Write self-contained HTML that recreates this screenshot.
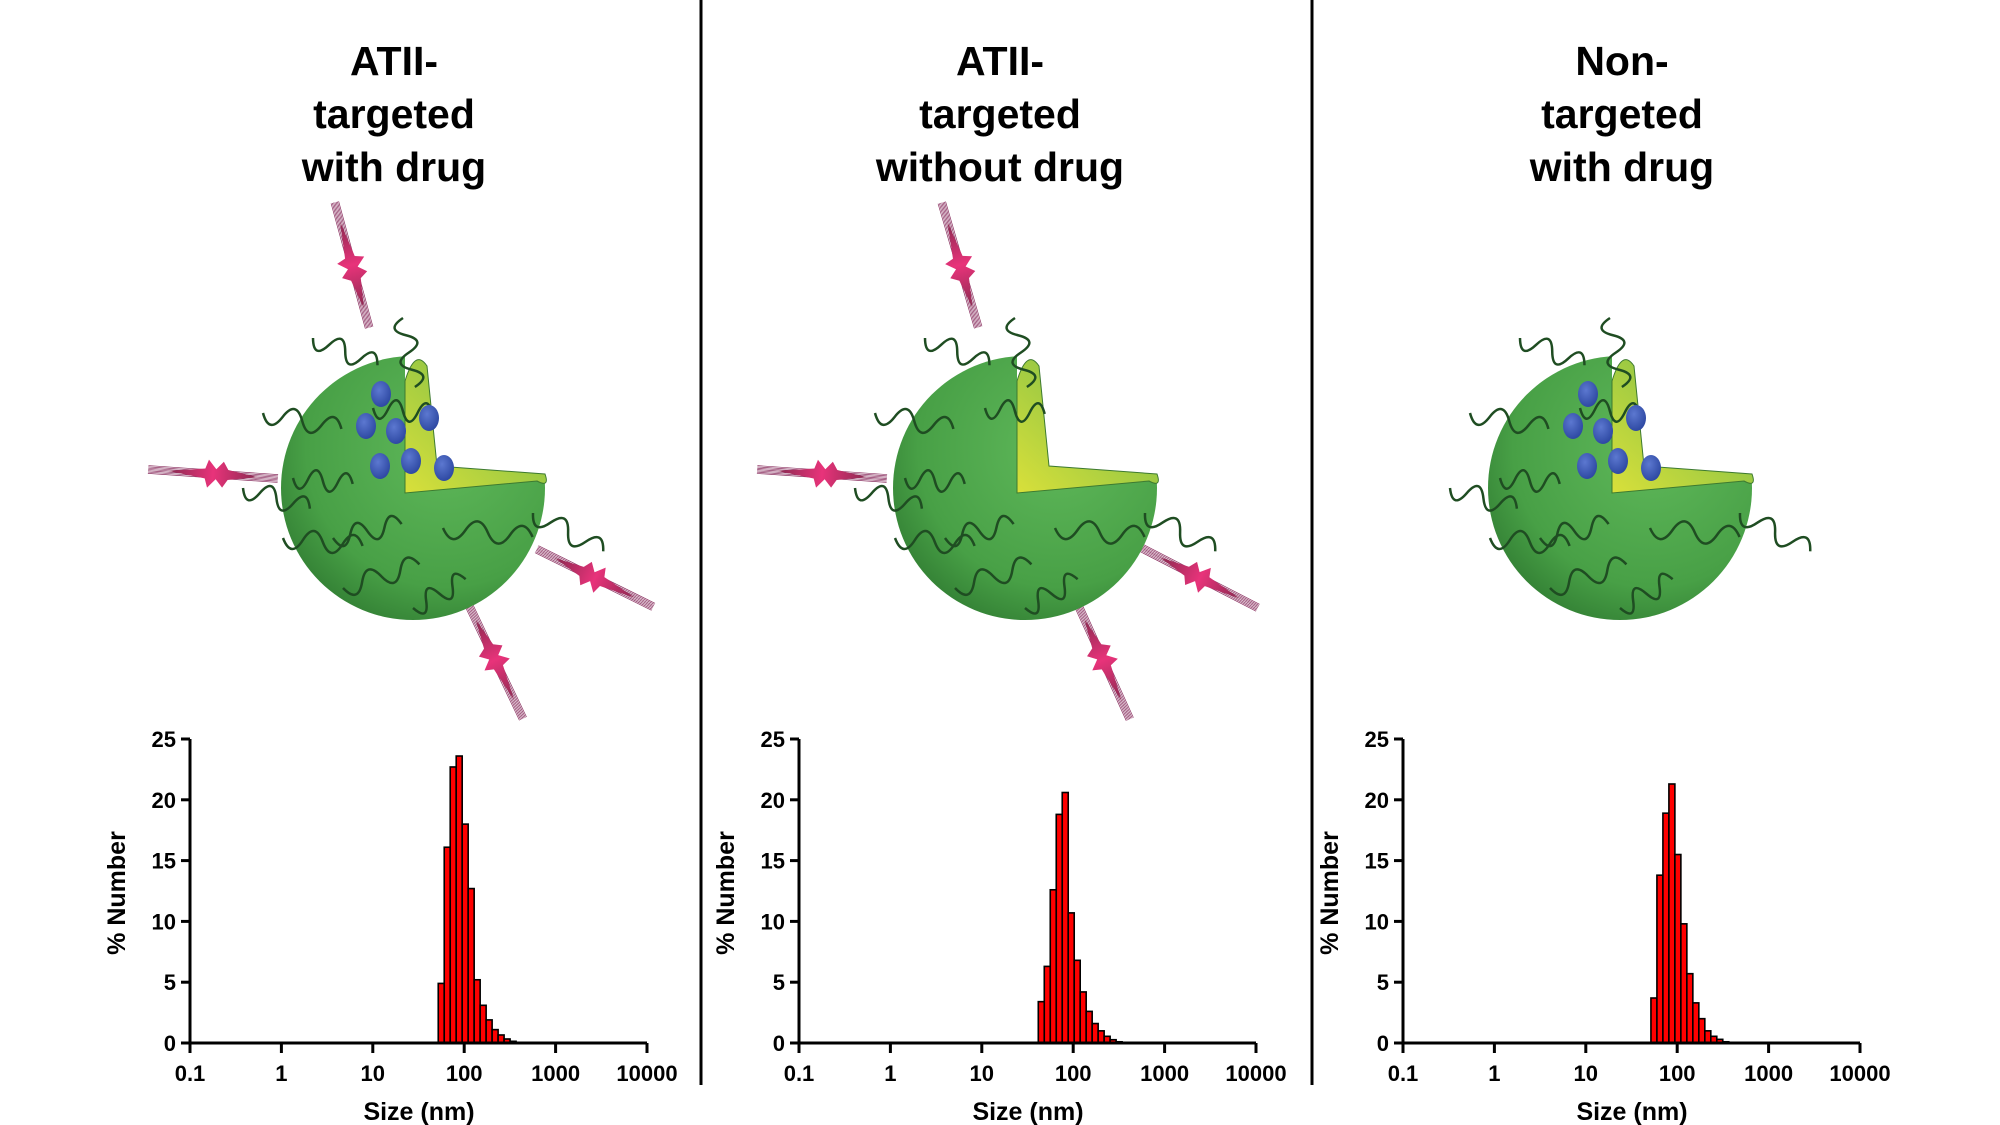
<!DOCTYPE html>
<html><head><meta charset="utf-8"><style>
body{margin:0;background:#fff;width:2000px;height:1125px;overflow:hidden;font-family:"Liberation Sans",sans-serif}
svg{position:absolute;left:0;top:0}
</style></head><body>
<svg id="s" width="2000" height="1125" viewBox="0 0 2000 1125">
<defs>
<radialGradient id="gs" cx="0.62" cy="0.35" r="0.75"><stop offset="0" stop-color="#5fb85a"/><stop offset="0.7" stop-color="#48a046"/><stop offset="1" stop-color="#2f7a31"/></radialGradient>
<linearGradient id="gw" x1="0" y1="1" x2="1" y2="0"><stop offset="0" stop-color="#d9e03a"/><stop offset="1" stop-color="#6cb84a"/></linearGradient>
<linearGradient id="gp" x1="0" y1="0" x2="1" y2="0"><stop offset="0" stop-color="#8a2a50"/><stop offset="0.5" stop-color="#e8337a"/><stop offset="1" stop-color="#8a2a50"/></linearGradient>
<radialGradient id="gb" cx="0.4" cy="0.35" r="0.7"><stop offset="0" stop-color="#5c78d0"/><stop offset="1" stop-color="#2b46a0"/></radialGradient>
</defs>
<line x1="701" y1="0" x2="701" y2="1085" stroke="#000" stroke-width="3"/>
<line x1="1312" y1="0" x2="1312" y2="1085" stroke="#000" stroke-width="3"/>
<g font-weight="bold" font-size="41" text-anchor="middle" fill="#000">
<text x="394" y="75"><tspan x="394">ATII-</tspan><tspan x="394" dy="53">targeted</tspan><tspan x="394" dy="53">with drug</tspan></text>
<text x="1000" y="75"><tspan x="1000">ATII-</tspan><tspan x="1000" dy="53">targeted</tspan><tspan x="1000" dy="53">without drug</tspan></text>
<text x="1622" y="75"><tspan x="1622">Non-</tspan><tspan x="1622" dy="53">targeted</tspan><tspan x="1622" dy="53">with drug</tspan></text>
</g>
<g id="art"></g>
<g id="charts"></g>
</svg>
<script>
const tickLabels=["0.1","1","10","100","1000","10000"];
const yTicks=[0,5,10,15,20,25];
const startSizes=[52,41.5,51.6];
const binRatioLog=0.0655;
const series1=[4.9,16.1,22.7,23.6,18.0,12.7,5.2,3.1,1.9,1.1,0.66,0.33,0.14];
const series2=[3.4,6.3,12.6,18.8,20.6,10.7,6.8,4.2,2.6,1.6,1.0,0.55,0.27,0.1];
const series3=[3.7,13.8,18.9,21.3,15.5,9.8,5.7,3.3,2.0,1.0,0.55,0.3,0.1];
const allSeries=[series1,series2,series3];
const NS="http://www.w3.org/2000/svg";
function mk(tag,at,parent){const e=document.createElementNS(NS,tag);for(const k in at)e.setAttribute(k,at[k]);parent.appendChild(e);return e;}
const panelX0=[190,799,1403];
const decW=91.4,yBase=1043,yTop=739;
const charts=document.getElementById('charts');
allSeries.forEach((vals,p)=>{
  const x0=panelX0[p];
  const g=mk('g',{},charts);
  
  
  const xs=v=>x0+(Math.log10(v)+1)*decW;
  const xl=l=>x0+(l+1)*decW;
  const ys=v=>yBase-(v/25)*(yBase-yTop);
  const l0=Math.log10(startSizes[p]);
  vals.forEach((v,i)=>{
    const a=xl(l0+i*binRatioLog),b=xl(l0+(i+1)*binRatioLog);
    const r=mk('rect',{x:a,y:ys(v),width:b-a,height:yBase-ys(v),fill:'#ff0000',stroke:'#000','stroke-width':1.6},g);
    
    
  });
  const ax=mk('path',{d:`M${x0} ${yTop} V${yBase} H${xs(10000)}`,stroke:'#000','stroke-width':3,fill:'none'},g);
  
  
  tickLabels.forEach(t=>{
    const x=xs(parseFloat(t));
    mk('line',{x1:x,y1:yBase,x2:x,y2:yBase+10,stroke:'#000','stroke-width':3},g);
    const tx=mk('text',{x:x,y:yBase+38,'text-anchor':'middle','font-size':22,'font-weight':'bold'},g);
    tx.textContent=t;
    
    
  });
  yTicks.forEach(t=>{
    const y=ys(t);
    mk('line',{x1:x0-9,y1:y,x2:x0,y2:y,stroke:'#000','stroke-width':3},g);
    const tx=mk('text',{x:x0-14,y:y+8,'text-anchor':'end','font-size':22,'font-weight':'bold'},g);
    tx.textContent=t;
    
    
  });
  const xt=mk('text',{x:x0+229,y:1120,'text-anchor':'middle','font-size':25,'font-weight':'bold'},g);
  xt.textContent='Size (nm)';
  
  
  const yt=mk('text',{x:0,y:0,'text-anchor':'middle','font-size':25,'font-weight':'bold',transform:`translate(${x0-65},${893}) rotate(-90)`},g);
  yt.textContent='% Number';
  
  
});
// illustrations
const art=document.getElementById('art');
const centers=[[413,488],[1025,488],[1620,488]];
const drug=[true,false,true];
const spikes=[[[352,265],[213,474],[595,578],[495,660]],[[960,265],[822,474],[1200,578],[1103,660]],[]];
function wave(g,x,y,ang,len){
  let d=`M${x} ${y}`;const n=4;
  const c=Math.cos(ang),s=Math.sin(ang);
  for(let i=1;i<=n;i++){
    const t0=(i-1)*len/n,t1=i*len/n,tm=(t0+t1)/2,a=(i%2?1:-1)*20;
    const cx=x+c*tm-s*a,cy=y+s*tm+c*a,ex=x+c*t1,ey=y+s*t1;
    d+=` Q${cx} ${cy} ${ex} ${ey}`;
  }
  mk('path',{d:d,stroke:'#1f4d22','stroke-width':2.5,fill:'none'},g);
}
centers.forEach(([cx,cy],p)=>{
  const g=mk('g',{},art);
  
  
  spikes[p].forEach(([sx,sy])=>{
    const ang=Math.atan2(sy-cy,sx-cx)*180/Math.PI;
    const sg=mk('g',{transform:`translate(${sx},${sy}) rotate(${ang})`},g);
    for(let k=-3;k<=3;k++) mk('line',{x1:-65,y1:k*1.3,x2:65,y2:k*1.3,stroke:'#8a3060','stroke-width':0.7},sg);
    mk('polygon',{points:'-45,0 -15,-5 -10,-13 -3,-5 5,-14 8,-5 45,0 8,5 5,14 -3,5 -10,13 -15,5',fill:'url(#gp)'},sg);
  });
  const r=132;
  mk('circle',{cx:cx,cy:cy,r:r,fill:'url(#gs)'},g);
  const wx=cx-8,wy=cy+5;
  mk('path',{d:`M${wx} ${wy} L${wx} ${cy-r-2} L${cx+r+5} ${cy-r-2} L${cx+r+5} ${wy-14} Z`,fill:'#fff'},g);
  mk('path',{d:`M${wx} ${wy} L${wx} ${cy-r+25} Q${wx+10} ${cy-r-8} ${wx+22} ${cy-r+10} L${wx+32} ${cy-22} L${cx+r} ${cy-14} Q${cx+r+5} ${cy} ${cx+r-8} ${wy-12} Z`,fill:'url(#gw)',stroke:'#3d7a30','stroke-width':1},g);
  [[-100,-150,0.4,70],[-150,-75,0.2,80],[-170,0,0.3,70],[-130,50,0.1,80],[-70,100,-0.3,80],[30,40,0.1,90],[120,25,0.5,80],[-40,-80,0.1,60],[-120,-10,0.1,60],[-80,50,-0.2,70],[0,120,-0.5,60],[-10,-170,1.4,70]].forEach(([dx,dy,a,l])=>wave(g,cx+dx,cy+dy,a,l));
  if(drug[p]) [[-52,-94],[-67,-62],[-37,-57],[-4,-70],[-22,-27],[-53,-22],[11,-20]].forEach(([dx,dy])=>mk('ellipse',{cx:cx+dx+20,cy:cy+dy,rx:10,ry:13,fill:'url(#gb)'},g));
});
</script>
</body></html>
